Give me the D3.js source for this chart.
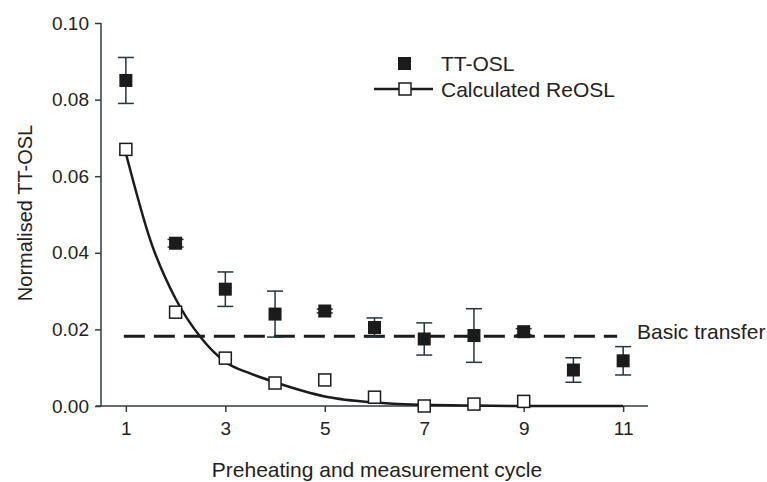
<!DOCTYPE html>
<html lang="en">
<head>
  <meta charset="UTF-8">
  <title>Normalised TT-OSL</title>
  <script src="https://d3js.org/d3.v7.min.js"></script>
  <style>
    body { margin: 0; background: #fff; }
    svg { display: block; font-family: "Liberation Sans", Arial, sans-serif; }
    .axis path, .axis line { stroke: #2f3d42; stroke-width: 1.5px; }
    .axis text { fill: #222; font-size: 19px; }
  </style>
</head>
<body>
<svg width="767" height="482"></svg>
<script>
  // cycles and measured values
  const cycles = [1, 2, 3, 4, 5, 6, 7, 8, 9, 10, 11];
  const ttosl = [0.085, 0.0425, 0.0305, 0.024, 0.0248, 0.0205, 0.0175, 0.0184, 0.0194, 0.0094, 0.0118];
  const ttoslErr = [0.006, 0.001, 0.0045, 0.006, 0.0005, 0.0025, 0.0042, 0.007, 0.0008, 0.0032, 0.0037];

  const reoslCycles = [1, 2, 3, 4, 5, 6, 7, 8, 9];
  const reosl = [0.067, 0.0245, 0.0125, 0.006, 0.0068, 0.0023, 0.0, 0.0005, 0.0012];

  // fitted curve
  const fitX = [1, 1.5, 2, 2.5, 3, 3.5, 4, 5, 6, 7, 8, 9, 10, 11];
  const fitY = [0.066, 0.043, 0.028, 0.018, 0.0115, 0.0085, 0.0062, 0.0025, 0.0009, 0.0003, 0.0001, 0, 0, 0];

  const basicTransfer = 0.0182;
  const xTicks = [1, 3, 5, 7, 9, 11];
  const yTicks = [0, 0.02, 0.04, 0.06, 0.08, 0.10];

  const svg = d3.select("svg");
  const ink = "#1b1b1b";

  const x = d3.scaleLinear().domain([0.5, 11.5]).range([101, 648]);
  const y = d3.scaleLinear().domain([0, 0.1]).range([406, 23]);

  // axes
  svg.append("g")
    .attr("class", "axis")
    .attr("transform", "translate(0,406)")
    .call(d3.axisBottom(x).tickValues(xTicks).tickSize(6).tickPadding(10).tickSizeOuter(0))
    .call(g => g.select(".domain").attr("d", "M96,0H648"));

  svg.append("g")
    .attr("class", "axis")
    .attr("transform", "translate(101,0)")
    .call(d3.axisLeft(y).tickValues(yTicks).tickSize(6).tickPadding(6).tickSizeOuter(0)
      .tickFormat(d3.format(".2f")))
    .call(g => g.select(".domain").attr("d", "M0,23V406"));

  // axis titles
  svg.append("text")
    .attr("x", 377).attr("y", 477)
    .attr("text-anchor", "middle")
    .attr("font-size", 21).attr("fill", "#222")
    .text("Preheating and measurement cycle");

  svg.append("text")
    .attr("transform", "translate(32,213) rotate(-90)")
    .attr("text-anchor", "middle")
    .attr("font-size", 20).attr("fill", "#222")
    .text("Normalised TT-OSL");

  // fitted ReOSL curve
  const line = d3.line()
    .x((d, i) => x(fitX[i]))
    .y(d => y(d))
    .curve(d3.curveMonotoneX);

  svg.append("path")
    .attr("d", line(fitY))
    .attr("fill", "none")
    .attr("stroke", ink)
    .attr("stroke-width", 2.5);

  // basic transfer level
  svg.append("line")
    .attr("x1", x(1) - 2).attr("x2", x(11) - 6)
    .attr("y1", y(basicTransfer)).attr("y2", y(basicTransfer))
    .attr("stroke", ink)
    .attr("stroke-width", 3)
    .attr("stroke-dasharray", "21,9");

  svg.append("text")
    .attr("x", 637).attr("y", 339)
    .attr("font-size", 21).attr("fill", "#222")
    .text("Basic transfer");

  // error bars
  const eb = svg.append("g").attr("stroke", "#24353b").attr("stroke-width", 1.5);
  cycles.forEach((c, i) => {
    const cx = x(c), top = y(ttosl[i] + ttoslErr[i]), bot = y(ttosl[i] - ttoslErr[i]);
    eb.append("line").attr("x1", cx).attr("x2", cx).attr("y1", top).attr("y2", bot);
    eb.append("line").attr("x1", cx - 8).attr("x2", cx + 8).attr("y1", top).attr("y2", top);
    eb.append("line").attr("x1", cx - 8).attr("x2", cx + 8).attr("y1", bot).attr("y2", bot);
  });

  // open squares
  svg.append("g").selectAll("rect")
    .data(reosl)
    .join("rect")
    .attr("x", (d, i) => x(reoslCycles[i]) - 6)
    .attr("y", d => y(d) - 6)
    .attr("width", 12).attr("height", 12)
    .attr("fill", "#fff")
    .attr("stroke", ink)
    .attr("stroke-width", 1.5);

  // filled squares
  svg.append("g").selectAll("rect")
    .data(ttosl)
    .join("rect")
    .attr("x", (d, i) => x(cycles[i]) - 6.5)
    .attr("y", d => y(d) - 6.5)
    .attr("width", 13).attr("height", 13)
    .attr("fill", ink);

  // legend
  const lg = svg.append("g");
  lg.append("rect").attr("x", 398).attr("y", 57).attr("width", 13).attr("height", 13).attr("fill", ink);
  lg.append("text").attr("x", 441).attr("y", 71).attr("font-size", 21).attr("fill", "#222").text("TT-OSL");
  lg.append("line").attr("x1", 374).attr("x2", 433).attr("y1", 89).attr("y2", 89)
    .attr("stroke", ink).attr("stroke-width", 2.5);
  lg.append("rect").attr("x", 399).attr("y", 83).attr("width", 12).attr("height", 12)
    .attr("fill", "#fff").attr("stroke", ink).attr("stroke-width", 1.5);
  lg.append("text").attr("x", 441).attr("y", 97).attr("font-size", 21).attr("fill", "#222").text("Calculated ReOSL");
</script>
</body>
</html>
